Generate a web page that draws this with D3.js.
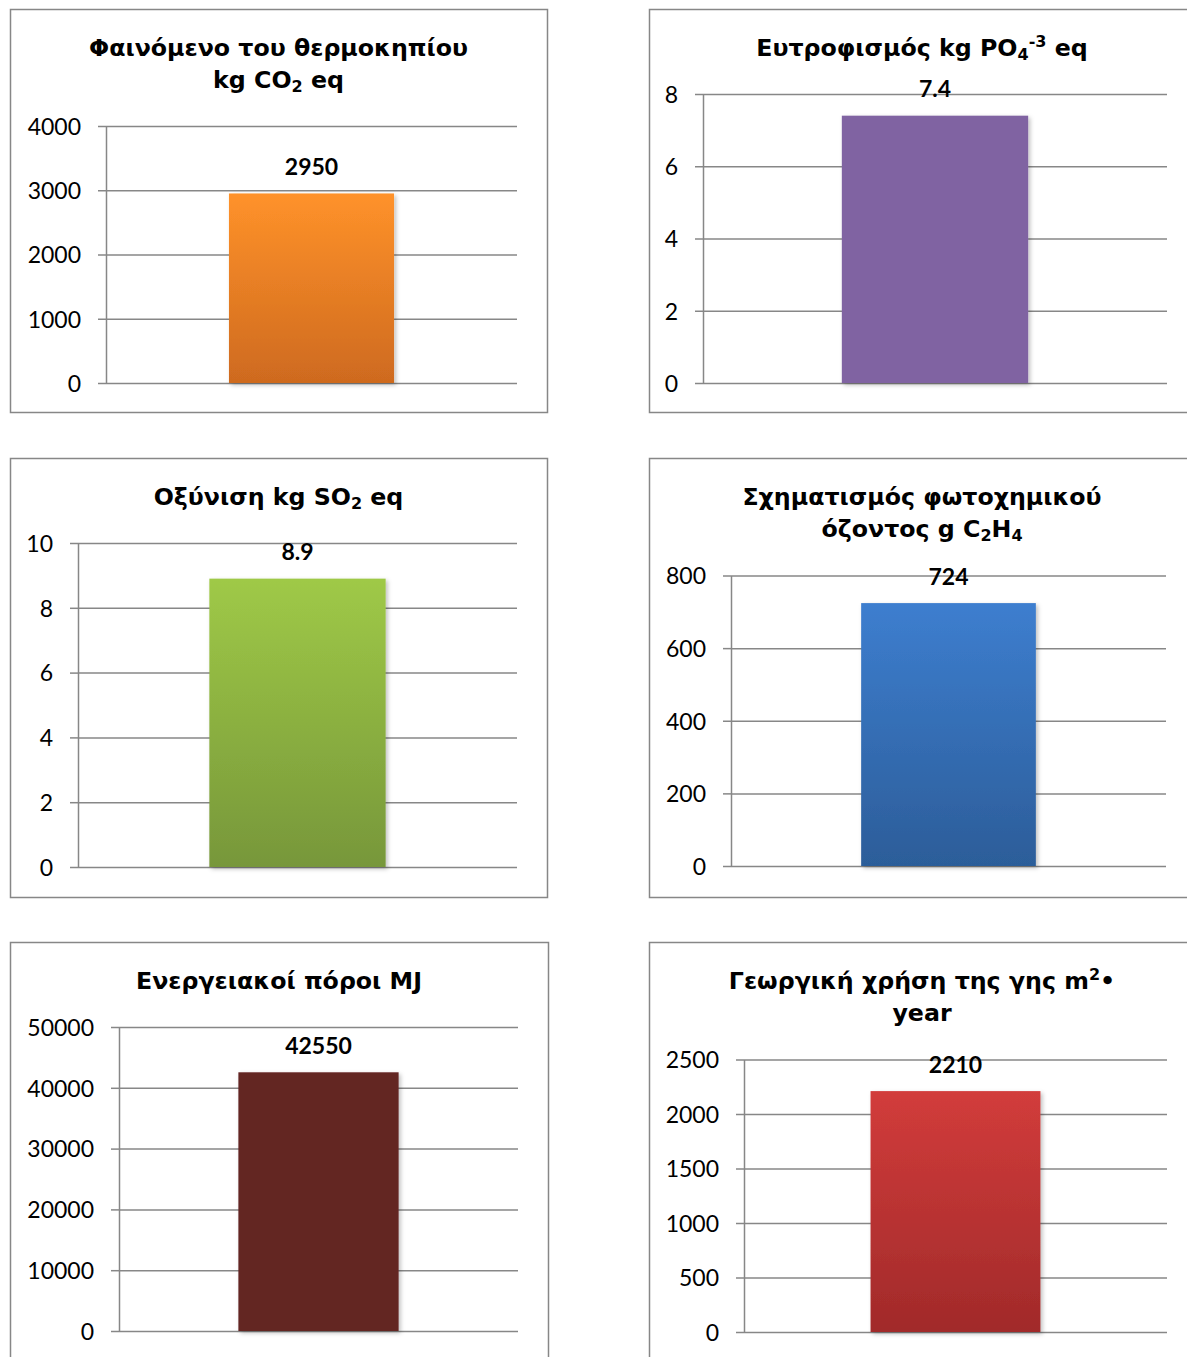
<!DOCTYPE html>
<html><head><meta charset="utf-8">
<script src="https://cdn.jsdelivr.net/npm/d3@7"></script>
<style>html,body{margin:0;padding:0;background:#fff;overflow:hidden}svg{display:block}</style>
</head><body>
<svg id="chart" width="1187" height="1357"></svg>
<script>
// ---- DATA ----
const categories = ["", "", "", "", "", ""];
const values = [2950, 7.4, 8.9, 724, 42550, 2210];
const valueLabels = ["2950", "7.4", "8.9", "724", "42550", "2210"];
const ticks1 = [0, 1000, 2000, 3000, 4000];
const ticks2 = [0, 2, 4, 6, 8];
const ticks3 = [0, 2, 4, 6, 8, 10];
const ticks4 = [0, 200, 400, 600, 800];
const ticks5 = [0, 10000, 20000, 30000, 40000, 50000];
const ticks6 = [0, 500, 1000, 1500, 2000, 2500];
const title1 = [[["Φαινόμενο του θερμοκηπίου", "n"]], [["kg CO", "n"], ["2", "sub"], [" eq", "n"]]];
const title2 = [[["Ευτροφισμός kg PO", "n"], ["4", "sub"], ["-3", "sup"], [" eq", "n"]]];
const title3 = [[["Οξύνιση kg SO", "n"], ["2", "sub"], [" eq", "n"]]];
const title4 = [[["Σχηματισμός φωτοχημικού", "n"]], [["όζοντος g C", "n"], ["2", "sub"], ["H", "n"], ["4", "sub"]]];
const title5 = [[["Ενεργειακοί πόροι MJ", "n"]]];
const title6 = [[["Γεωργική χρήση της γης m", "n"], ["2", "sup"], ["•", "n"]], [["year", "n"]]];
const colorTop = ["#FF922A", "#8064A2", "#9FC947", "#3D7ECF", "#632523", "#D23C3B"];
const colorBottom = ["#CE6A1F", "#8064A2", "#77973A", "#2C5D99", "#632523", "#A12A2A"];

const tickSets = [ticks1, ticks2, ticks3, ticks4, ticks5, ticks6];
const titleSets = [title1, title2, title3, title4, title5, title6];

// ---- LAYOUT ----
const layout = [
  {bx: 10,  by: 9,   bw: 537, bh: 403, ax: 106, gx2: 517, yb: 383,  yt: 126},
  {bx: 649, by: 9,   bw: 546, bh: 403, ax: 703, gx2: 1167, yb: 383, yt: 94},
  {bx: 10,  by: 458, bw: 537, bh: 439, ax: 78,  gx2: 517, yb: 867,  yt: 543},
  {bx: 649, by: 458, bw: 546, bh: 439, ax: 731, gx2: 1166, yb: 866, yt: 575.5},
  {bx: 10,  by: 942, bw: 538, bh: 440, ax: 119, gx2: 518, yb: 1331, yt: 1027},
  {bx: 649, by: 942, bw: 546, bh: 440, ax: 744, gx2: 1167, yb: 1332, yt: 1059.5}
];

const svg = d3.select("#chart");
const defs = svg.append("defs");
const f = defs.append("filter").attr("id", "shadow").attr("x", "-10%").attr("y", "-10%").attr("width", "130%").attr("height", "130%");
f.append("feDropShadow").attr("dx", 2).attr("dy", 2).attr("stdDeviation", 2).attr("flood-color", "#000").attr("flood-opacity", 0.25);

const gridColor = "#878787";
const titleFont = "'DejaVu Sans', Verdana, sans-serif";
const numFont = "Lato, 'Open Sans', sans-serif";

layout.forEach((L, i) => {
  const g = svg.append("g");
  // border
  g.append("rect").attr("x", L.bx + 0.5).attr("y", L.by + 0.5).attr("width", L.bw).attr("height", L.bh)
    .attr("fill", "#fff").attr("stroke", gridColor).attr("stroke-width", 1.5);

  const ticks = tickSets[i];
  const y = d3.scaleLinear().domain([0, d3.max(ticks)]).range([L.yb, L.yt]);
  const x = d3.scaleBand().domain([categories[i]]).range([L.ax, L.gx2]).paddingInner(0).paddingOuter(0.745);

  // gridlines via axis
  const axis = d3.axisLeft(y).tickValues(ticks).tickSize(-(L.gx2 - L.ax)).tickSizeOuter(0).tickFormat("");
  const ag = g.append("g").attr("transform", `translate(${L.ax},0)`).call(axis);
  ag.select(".domain").remove();
  ag.selectAll(".tick line").attr("stroke", gridColor).attr("stroke-width", 1.5);
  // outer tick marks + labels
  const axis2 = d3.axisLeft(y).tickValues(ticks).tickSize(8).tickSizeOuter(0).tickPadding(17).tickFormat(d3.format("d"));
  const ag2 = g.append("g").attr("transform", `translate(${L.ax},0)`).call(axis2);
  ag2.select(".domain").attr("stroke", gridColor).attr("stroke-width", 1.5);
  ag2.selectAll(".tick line").attr("stroke", gridColor).attr("stroke-width", 1.5);
  ag2.selectAll(".tick text").attr("fill", "#000").attr("font-family", numFont).attr("font-size", 23).attr("dy", "0.36em");

  // gradient
  const gid = "grad" + i;
  const lg = defs.append("linearGradient").attr("id", gid).attr("x1", 0).attr("y1", 0).attr("x2", 0).attr("y2", 1);
  lg.append("stop").attr("offset", "0%").attr("stop-color", colorTop[i]);
  lg.append("stop").attr("offset", "100%").attr("stop-color", colorBottom[i]);

  g.append("rect")
    .datum(values[i])
    .attr("x", x(categories[i]))
    .attr("width", x.bandwidth())
    .attr("y", d => y(d))
    .attr("height", d => y(0) - y(d))
    .attr("fill", `url(#${gid})`)
    .attr("filter", "url(#shadow)");

  g.append("text")
    .attr("x", x(categories[i]) + x.bandwidth() / 2)
    .attr("y", y(values[i]) - 18.5)
    .attr("text-anchor", "middle")
    .attr("font-family", numFont).attr("font-weight", "bold").attr("font-size", 23)
    .attr("fill", "#000")
    .text(valueLabels[i]);

  // title
  const cx = L.bx + L.bw / 2;
  titleSets[i].forEach((line, li) => {
    const t = g.append("text")
      .attr("x", cx).attr("y", L.by + 46.5 + li * 32)
      .attr("text-anchor", "middle")
      .attr("font-family", titleFont).attr("font-weight", "bold").attr("font-size", 23.7)
      .attr("fill", "#000");
    line.forEach(([txt, mode]) => {
      const ts = t.append("tspan").text(txt);
      if (mode === "sub") ts.attr("font-size", 16).attr("baseline-shift", "-4");
      if (mode === "sup") ts.attr("font-size", 16).attr("baseline-shift", "9");
    });
  });
});
</script>
</body></html>
